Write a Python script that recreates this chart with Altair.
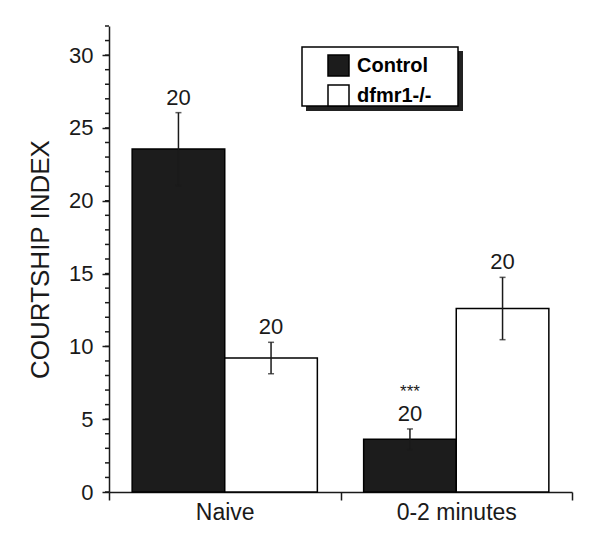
import altair as alt
import pandas as pd

# ---- data ----
groups = ["Naive", "Naive", "0-2 minutes", "0-2 minutes"]
genotypes = ["Control", "dfmr1-/-", "Control", "dfmr1-/-"]
means = [23.55, 9.2, 3.62, 12.6]
sems = [2.5, 1.08, 0.71, 2.14]
n_labels = ["20", "20", "20", "20"]
sig_labels = ["", "", "***", ""]

group_order = ["Naive", "0-2 minutes"]
genotype_order = ["Control", "dfmr1-/-"]
minor_ticks = list(range(0, 33))
major_ticks = [0, 5, 10, 15, 20, 25, 30]

df = pd.DataFrame({
    "group": groups,
    "genotype": genotypes,
    "mean": means,
    "sem": sems,
    "n": n_labels,
    "sig": sig_labels,
})
df["lo"] = df["mean"] - df["sem"]
df["hi"] = df["mean"] + df["sem"]

FONT = "Liberation Sans"
INK = "#1a1a1a"

x_enc = alt.X(
    "group:N", sort=group_order,
    scale=alt.Scale(paddingInner=0, paddingOuter=0),
    axis=alt.Axis(title=None, tickBand="extent", tickSize=8, tickWidth=1.5,
                  tickColor=INK, domainColor=INK, domainWidth=1.5,
                  labelPadding=1, labelFontSize=23, labelFont=FONT,
                  labelColor=INK, labelAngle=0, grid=False),
)
xoff_enc = alt.XOffset("genotype:N", sort=genotype_order,
                       scale=alt.Scale(paddingOuter=0.25, paddingInner=0))
yscale = alt.Scale(domain=[0, 32], nice=False, zero=True)

base = alt.Chart(df)

bars = base.mark_bar(stroke="black", strokeWidth=1.5).encode(
    x=x_enc,
    xOffset=xoff_enc,
    y=alt.Y("mean:Q", scale=yscale,
            axis=alt.Axis(orient="left", values=major_ticks, tickSize=7, tickWidth=1.5,
                          tickColor=INK, domainColor=INK, domainWidth=1.5,
                          labelPadding=9, labelFontSize=22, labelFont=FONT,
                          labelColor=INK, grid=False,
                          title="COURTSHIP INDEX", titleFont=FONT,
                          titleFontSize=26, titleFontWeight="normal",
                          titleColor=INK, titlePadding=15)),
    fill=alt.Fill("genotype:N",
                  scale=alt.Scale(domain=genotype_order, range=["#1c1c1c", "#ffffff"]),
                  legend=alt.Legend(title=None, orient="none", legendX=218, legendY=28,
                                    padding=0, symbolType="square", symbolSize=441,
                                    symbolStrokeColor="black", symbolStrokeWidth=1.5,
                                    labelFont=FONT, labelFontSize=20,
                                    labelFontWeight="bold", labelColor="black",
                                    labelOffset=7, rowPadding=3)),
)

yq = lambda f: alt.Y(f, scale=yscale, axis=None)

# minor ticks of the y axis, positioned through the y scale
minor = alt.Chart(pd.DataFrame({"t": minor_ticks})).mark_rule(
    color=INK, strokeWidth=1.5).encode(
    y=yq("t:Q"), x=alt.value(-4), x2=alt.value(0))

err = base.mark_rule(color=INK, strokeWidth=1.5).encode(
    x=x_enc, xOffset=xoff_enc, y=yq("lo:Q"), y2="hi:Q")

cap_hi = base.mark_tick(color=INK, size=6, thickness=1.5).encode(
    x=x_enc, xOffset=xoff_enc, y=yq("hi:Q"))
cap_lo = base.mark_tick(color=INK, size=6, thickness=1.5).encode(
    x=x_enc, xOffset=xoff_enc, y=yq("lo:Q"))

n_text = base.mark_text(dy=-8, baseline="alphabetic", fontSize=22, font=FONT,
                        color=INK).encode(
    x=x_enc, xOffset=xoff_enc, y=yq("hi:Q"), text="n:N")

sig_text = base.transform_filter("datum.sig != ''").mark_text(
    dy=-32, baseline="alphabetic", fontSize=17, font=FONT, color=INK).encode(
    x=x_enc, xOffset=xoff_enc, y=yq("hi:Q"), text="sig:N")

deco = alt.Data(values=[{"k": 1}])
shadow = alt.Chart(deco).mark_rect(color="#222222").encode(
    x=alt.value(197), x2=alt.value(354), y=alt.value(25), y2=alt.value(85))
box = alt.Chart(deco).mark_rect(fill="white", stroke="black", strokeWidth=1.5).encode(
    x=alt.value(193), x2=alt.value(349), y=alt.value(21), y2=alt.value(80))

chart = alt.layer(
    shadow, box, bars, minor, err, cap_hi, cap_lo, n_text, sig_text
).resolve_axis(y="independent").properties(
    width=463, height=466,
    autosize=alt.AutoSizeParams(type="none"),
    padding={"left": 101, "top": 18, "right": 10, "bottom": 50},
    background="white",
).configure_view(stroke=None)

chart.save("out.html", embed_options={"renderer": "svg", "actions": False})
